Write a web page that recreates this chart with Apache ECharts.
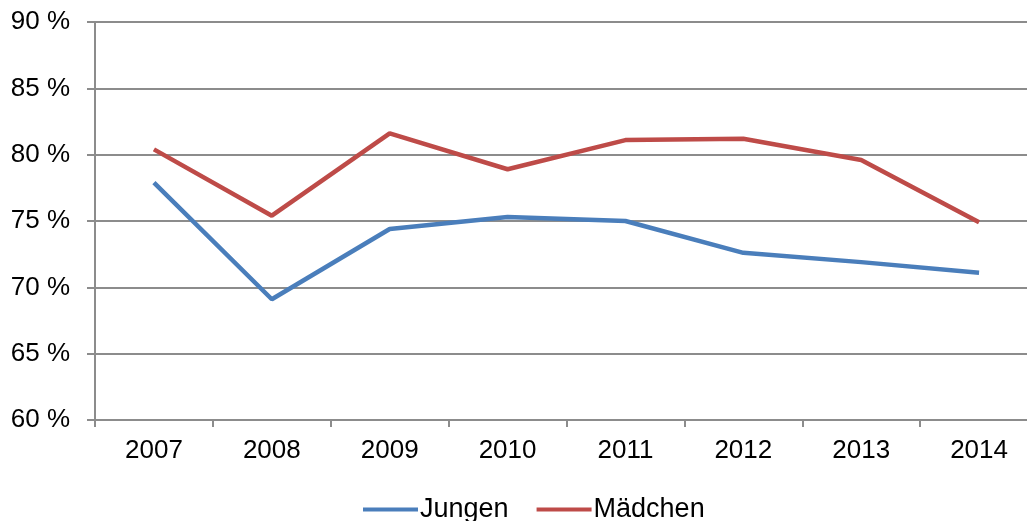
<!DOCTYPE html>
<html>
<head>
<meta charset="utf-8">
<script src="https://cdn.jsdelivr.net/npm/echarts@6/dist/echarts.min.js"></script>
<style>
  html, body { margin: 0; padding: 0; background: #fff; }
  #chart { width: 1027px; height: 521px; }
</style>
</head>
<body>
<div id="chart"></div>
<script>
const years = ['2007', '2008', '2009', '2010', '2011', '2012', '2013', '2014']
const jungen = [77.9, 69.1, 74.4, 75.3, 75.0, 72.6, 71.9, 71.1]
const maedchen = [80.4, 75.4, 81.6, 78.9, 81.1, 81.2, 79.6, 74.9]

const chart = echarts.init(document.getElementById('chart'))
const gray = '#8c8c8c'
const font = 'Liberation Sans, Arial, sans-serif'

chart.setOption({
  animation: false,
  grid: { left: 95, width: 943, top: 22, height: 398, outerBoundsMode: 'none' },
  legend: {
    top: 491,
    left: 358,
    itemWidth: 55,
    itemHeight: 4,
    itemGap: 28,
    icon: 'rect',
    textStyle: { fontSize: 27, color: '#000', fontFamily: font, padding: [0, 0, 0, -3] },
    data: ['Jungen', 'Mädchen']
  },
  xAxis: {
    type: 'category',
    data: years,
    boundaryGap: true,
    axisLine: { lineStyle: { color: gray, width: 2 } },
    axisTick: { show: true, length: 7, inside: false, lineStyle: { color: gray, width: 2 } },
    axisLabel: { fontSize: 26, color: '#000', fontFamily: font, margin: 18 }
  },
  yAxis: {
    type: 'value',
    min: 60,
    max: 90,
    interval: 5,
    axisLine: { show: true, lineStyle: { color: gray, width: 2 } },
    axisTick: { show: true, length: 8, lineStyle: { color: gray, width: 2 } },
    axisLabel: { fontSize: 26, color: '#000', fontFamily: font, margin: 25, formatter: '{value} %' },
    splitLine: { lineStyle: { color: gray, width: 2 } }
  },
  series: [
    {
      name: 'Jungen',
      type: 'line',
      data: jungen,
      symbol: 'none',
      lineStyle: { color: '#4a7ebb', width: 4.5 },
      itemStyle: { color: '#4a7ebb' }
    },
    {
      name: 'Mädchen',
      type: 'line',
      data: maedchen,
      symbol: 'none',
      lineStyle: { color: '#be4b48', width: 4.5 },
      itemStyle: { color: '#be4b48' }
    }
  ]
})
</script>
</body>
</html>
